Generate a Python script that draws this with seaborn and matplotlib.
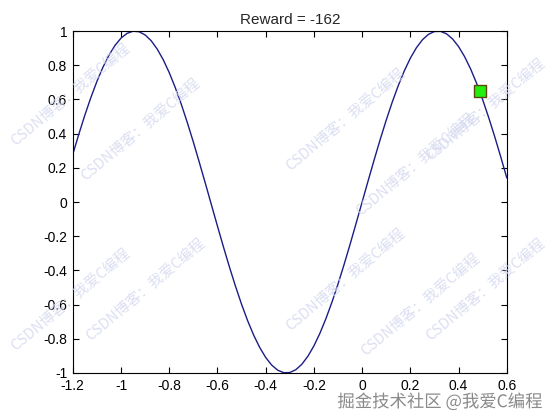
import matplotlib
matplotlib.use("Agg")
import matplotlib.pyplot as plt
import matplotlib.patheffects as pe
import seaborn as sns
import pandas as pd

# Track (hill) profile, x from -1.2 to 0.6 in steps of 0.025
track_x = [round(-1.2 + 0.025 * k, 3) for k in range(73)]
track_y = [0.2794, 0.3969, 0.5083, 0.6115, 0.7055, 0.7885, 0.8589, 0.9161, 0.9589, 0.9867,
           0.9992, 0.9961, 0.9775, 0.9436, 0.8950, 0.8327, 0.7568, 0.6692, 0.5716, 0.4646,
           0.3508, 0.2306, 0.1082, -0.0166, -0.1411, -0.2636, -0.3817, -0.4937, -0.5985, -0.6938,
           -0.7781, -0.8504, -0.9093, -0.9541, -0.9840, -0.9985, -0.9975, -0.9809, -0.9490, -0.9023,
           -0.8415, -0.7675, -0.6816, -0.5851, -0.4794, -0.3663, -0.2474, -0.1247, 0.0, 0.1247,
           0.2474, 0.3663, 0.4794, 0.5851, 0.6816, 0.7675, 0.8415, 0.9023, 0.9490, 0.9809,
           0.9975, 0.9985, 0.9840, 0.9541, 0.9093, 0.8504, 0.7781, 0.6938, 0.5985, 0.4937,
           0.3817, 0.2636, 0.1411]

car_x = [0.49]
car_y = [0.65]

title_text = "Reward = -162"
x_ticks = [-1.2, -1, -0.8, -0.6, -0.4, -0.2, 0, 0.2, 0.4, 0.6]
x_ticklabels = ["-1.2", "-1", "-0.8", "-0.6", "-0.4", "-0.2", "0", "0.2", "0.4", "0.6"]
y_ticks = [-1, -0.8, -0.6, -0.4, -0.2, 0, 0.2, 0.4, 0.6, 0.8, 1]
y_ticklabels = ["-1", "-0.8", "-0.6", "-0.4", "-0.2", "0", "0.2", "0.4", "0.6", "0.8", "1"]

watermark = "CSDN博客：我爱C编程"
footer = "掘金技术社区 @我爱C编程"

sns.set_theme(style="ticks")
plt.rcParams['font.family'] = ['Liberation Sans', 'Noto Sans CJK SC', 'DejaVu Sans']

fig = plt.figure(figsize=(5.6, 4.2), dpi=100)
ax = fig.add_axes([0.13, 0.112, 0.775, 0.814])

df = pd.DataFrame({"x": track_x, "y": track_y})
sns.lineplot(data=df, x="x", y="y", ax=ax, color="#1c1c86", linewidth=1.0)
sns.scatterplot(x=car_x, y=car_y, ax=ax, marker="s", s=75, color="#22ee10",
                edgecolor="#5a4a10", linewidth=1.0, zorder=5)

ax.set_xlim(-1.2, 0.6)
ax.set_ylim(-1, 1)
ax.set_xticks(x_ticks)
ax.set_xticklabels(x_ticklabels)
ax.set_yticks(y_ticks)
ax.set_yticklabels(y_ticklabels)
ax.set_xlabel("")
ax.set_ylabel("")
ax.tick_params(direction="in", length=4, width=0.8, labelsize=10, colors="black",
               top=True, right=True, pad=4)
for s in ax.spines.values():
    s.set_visible(True)
    s.set_color("black")
    s.set_linewidth(0.8)
ax.set_title(title_text, fontsize=11, pad=5)

# faint diagonal watermarks (figure pixel coords converted to fractions)
wm_centers = [(70, 95), (140, 130), (345, 120), (415, 165), (485, 110),
              (70, 300), (145, 290), (345, 280), (420, 305), (485, 290)]
for (px, py) in wm_centers:
    fig.text(px / 560, 1 - py / 420, watermark, rotation=40, fontsize=10.5,
             color="#d3d7ee", ha="center", va="center", alpha=0.8,
             family=['Noto Sans CJK SC', 'DejaVu Sans'], zorder=10)

fig.text(440 / 560, 1 - 402 / 420, footer, fontsize=12.5, color="#8a8a8a",
         ha="center", va="center", family=['Noto Sans CJK SC', 'DejaVu Sans'],
         path_effects=[pe.withStroke(linewidth=2, foreground="white")], zorder=11)

fig.savefig("out.png", dpi=100, facecolor="white")
